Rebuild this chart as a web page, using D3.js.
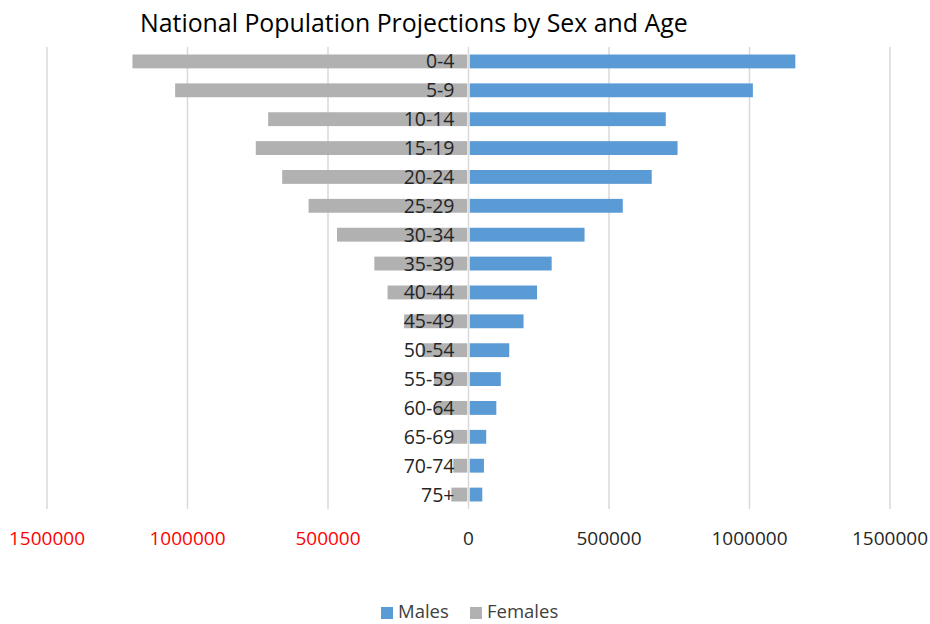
<!DOCTYPE html>
<html>
<head>
<meta charset="utf-8">
<script src="https://cdn.jsdelivr.net/npm/d3@7"></script>
<style>
  html, body { margin: 0; padding: 0; background: #fff; }
  svg { display: block; font-family: "Open Sans", "Noto Sans", sans-serif; }
</style>
</head>
<body>
<svg id="chart" width="930" height="624"></svg>
<script>
const ageGroups = ["0-4","5-9","10-14","15-19","20-24","25-29","30-34","35-39","40-44","45-49","50-54","55-59","60-64","65-69","70-74","75+"];
const males   = [1163000,1012000,702000,744000,652000,549000,413000,296000,244000,196000,145000,115000,99000,63000,55000,49000];
const females = [1196000,1044000,713000,757000,663000,569000,468000,335000,288000,229000,165000,123000,118000,61000,54000,61000];
const tickValues = [-1500000,-1000000,-500000,0,500000,1000000,1500000];
const tickLabels = ["1500000","1000000","500000","0","500000","1000000","1500000"];
const seriesNames = ["Males","Females"];
const title = "National Population Projections by Sex and Age";

const colors = { Males: "#5B9BD5", Females: "#B1B1B2" };

const svg = d3.select("#chart");
const plot = { left: 47, right: 890, top: 47, bottom: 509 };

const x = d3.scaleLinear().domain([-1500000, 1500000]).range([plot.left, plot.right]);
const y = d3.scaleBand().domain(ageGroups).range([plot.top, plot.bottom]).paddingInner(0.52).paddingOuter(0.26);

// gridlines
svg.append("g").selectAll("line").data(tickValues).join("line")
  .attr("x1", d => x(d)).attr("x2", d => x(d))
  .attr("y1", plot.top).attr("y2", plot.bottom)
  .attr("stroke", "#D9D9D9").attr("stroke-width", 1.5);

// bars
const gap = 1.2;
svg.append("g").selectAll("rect").data(ageGroups).join("rect")
  .attr("x", (d, i) => x(-females[i]))
  .attr("y", d => y(d))
  .attr("width", (d, i) => x(0) - x(-females[i]) - gap)
  .attr("height", y.bandwidth())
  .attr("fill", colors.Females);

svg.append("g").selectAll("rect").data(ageGroups).join("rect")
  .attr("x", x(0) + gap)
  .attr("y", d => y(d))
  .attr("width", (d, i) => x(males[i]) - x(0) - gap)
  .attr("height", y.bandwidth())
  .attr("fill", colors.Males);

// category labels
svg.append("g").selectAll("text").data(ageGroups).join("text")
  .attr("x", x(0) - 14)
  .attr("y", d => y(d) + y.bandwidth() / 2)
  .attr("dy", "0.36em")
  .attr("text-anchor", "end")
  .attr("font-size", 19.5)
  .attr("fill", "#262626")
  .text(d => d);

// x tick labels
svg.append("g").selectAll("text").data(tickValues).join("text")
  .attr("x", d => x(d))
  .attr("y", 545)
  .attr("text-anchor", "middle")
  .attr("font-size", 19)
  .attr("fill", d => d < 0 ? "#FF0000" : "#262626")
  .text((d, i) => tickLabels[i]);

// title
const t = svg.append("text")
  .attr("x", 140).attr("y", 32)
  .attr("font-size", 24)
  .attr("fill", "#000")
  .text(title);
const tw = t.node().getComputedTextLength();
t.attr("font-size", 24 * 548 / tw);

// legend
const legendItems = [
  { name: seriesNames[0], sx: 381, tx: 398 },
  { name: seriesNames[1], sx: 470, tx: 487 }
];
const lg = svg.append("g");
legendItems.forEach(it => {
  lg.append("rect").attr("x", it.sx).attr("y", 607).attr("width", 12).attr("height", 12)
    .attr("fill", colors[it.name]);
  lg.append("text").attr("x", it.tx).attr("y", 618)
    .attr("font-size", 18.5).attr("fill", "#404040").text(it.name);
});
</script>
</body>
</html>
